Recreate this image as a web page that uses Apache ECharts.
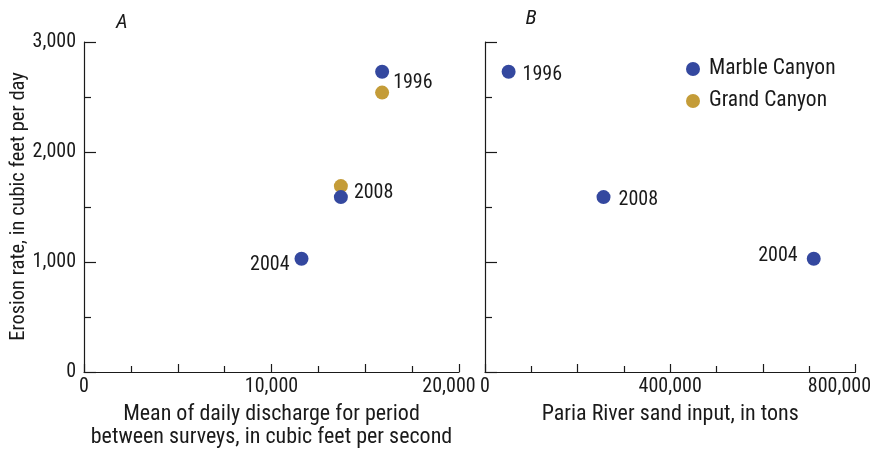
<!DOCTYPE html>
<html>
<head>
<meta charset="utf-8">
<script src="https://cdn.jsdelivr.net/npm/echarts@6/dist/echarts.min.js"></script>
<style>
  html, body { margin: 0; padding: 0; background: #fff; }
  #chart { width: 874px; height: 455px; }
</style>
</head>
<body>
<div id="chart"></div>
<script>
// values
const marbleYears = ['1996', '2004', '2008']
const marbleDischarge = [15900, 11600, 13700]
const marbleErosion = [2730, 1030, 1590]
const pariaSand = [51000, 710000, 256000]

const grandYears = ['1996', '2008']
const grandDischarge = [15900, 13700]
const grandErosion = [2540, 1690]

const erosionTicks = [0, 1000, 2000, 3000]
const dischargeTicks = [0, 10000, 20000]
const sandTicks = [0, 400000, 800000]

const FONT = '"Roboto Condensed", Roboto, sans-serif'
const INK = '#1a1a1a'
const BLUE = '#34489f'
const GOLD = '#c49c38'

// where each year label sits next to its dot
const labelA = {
  '1996': { position: 'right', distance: 4, offset: [0, 11] },
  '2004': { position: 'left', distance: 5, offset: [0, 6] },
  '2008': { position: 'right', distance: 6, offset: [0, -4] },
}
const labelB = {
  '1996': { position: 'right', distance: 7, offset: [0, 3] },
  '2004': { position: 'left', distance: 9, offset: [0, -3] },
  '2008': { position: 'right', distance: 8, offset: [0, 3] },
}

const fmt = v => Number(v).toLocaleString('en-US')

function points(xs, ys, years, labels) {
  return xs.map((x, i) => ({
    value: [x, ys[i]],
    label: labels ? {
      show: true,
      formatter: years[i],
      color: INK,
      fontSize: 20,
      fontFamily: FONT,
      ...labels[years[i]],
    } : { show: false },
  }))
}

const axisLine = { show: true, lineStyle: { color: INK, width: 1.2 } }
const tickLabel = { color: INK, fontSize: 20, fontFamily: FONT }

function xAxis(gridIndex, max, interval, ticks, lastPad, name) {
  return {
    type: 'value', gridIndex, min: 0, max, interval,
    axisLine,
    splitLine: { show: false },
    axisTick: { show: true, inside: true, length: 8, lineStyle: { color: INK, width: 1.2 } },
    minorTick: { show: true, splitNumber: 2, length: 6, lineStyle: { color: INK, width: 1.2 } },
    axisLabel: {
      ...tickLabel,
      margin: 5,
      showMaxLabel: true,
      formatter: v => {
        if (!ticks.includes(v)) return ''
        if (v === max) return '{last|' + fmt(v) + '}'
        return fmt(v)
      },
      rich: { last: { ...tickLabel, padding: [0, lastPad, 0, 0] } },
    },
    name,
    nameLocation: 'middle',
    nameGap: 31,
    nameTextStyle: { color: INK, fontSize: 22, fontFamily: FONT, lineHeight: 23 },
  }
}

function yAxis(gridIndex, showLabels) {
  return {
    type: 'value', gridIndex, min: 0, max: 3000, interval: 1000,
    axisLine,
    splitLine: { show: false },
    axisTick: { show: true, inside: true, length: 12, lineStyle: { color: INK, width: 1.2 } },
    minorTick: { show: true, splitNumber: 2, length: 7, lineStyle: { color: INK, width: 1.2 } },
    axisLabel: {
      ...tickLabel,
      show: showLabels,
      margin: 8,
      formatter: v => erosionTicks.includes(v) ? fmt(v) : '',
    },
  }
}

const chart = echarts.init(document.getElementById('chart'), null, { renderer: 'canvas' })

chart.setOption({
  animation: false,
  backgroundColor: '#fff',
  grid: [
    { left: 84, top: 42, width: 375, height: 330 },
    { left: 485, top: 42, width: 374, height: 330 },
  ],
  xAxis: [
    xAxis(0, 20000, 5000, dischargeTicks, 20,
      'Mean of daily discharge for period\nbetween surveys, in cubic feet per second'),
    xAxis(1, 800000, 200000, sandTicks, 32, 'Paria River sand input, in tons'),
  ],
  yAxis: [yAxis(0, true), yAxis(1, false)],
  legend: {
    orient: 'vertical',
    left: 686,
    top: 58,
    padding: 0,
    itemWidth: 14,
    itemHeight: 14,
    itemGap: 10,
    icon: 'circle',
    data: ['Marble Canyon', 'Grand Canyon'],
    textStyle: { color: INK, fontSize: 21.5, fontFamily: FONT, padding: [0, 0, 0, 4] },
  },
  graphic: [
    {
      type: 'text', x: 18.5, y: 206.5, rotation: Math.PI / 2,
      style: {
        text: 'Erosion rate, in cubic feet per day',
        fill: INK, font: '20.5px ' + FONT, align: 'center', verticalAlign: 'middle',
      },
    },
    {
      type: 'text', x: 122, y: 23,
      style: { text: 'A', fill: INK, font: 'italic 21px ' + FONT, align: 'center', verticalAlign: 'middle' },
    },
    {
      type: 'text', x: 531, y: 19,
      style: { text: 'B', fill: INK, font: 'italic 21px ' + FONT, align: 'center', verticalAlign: 'middle' },
    },
  ],
  series: [
    {
      name: 'Grand Canyon', type: 'scatter', xAxisIndex: 0, yAxisIndex: 0,
      symbolSize: 14, itemStyle: { color: GOLD, opacity: 1 },
      data: points(grandDischarge, grandErosion, grandYears, null),
    },
    {
      name: 'Marble Canyon', type: 'scatter', xAxisIndex: 0, yAxisIndex: 0,
      symbolSize: 14, itemStyle: { color: BLUE, opacity: 1 },
      data: points(marbleDischarge, marbleErosion, marbleYears, labelA),
    },
    {
      name: 'Marble Canyon', type: 'scatter', xAxisIndex: 1, yAxisIndex: 1,
      symbolSize: 14, itemStyle: { color: BLUE, opacity: 1 },
      data: points(pariaSand, marbleErosion, marbleYears, labelB),
    },
  ],
})

window.addEventListener('resize', () => chart.resize())
</script>
</body>
</html>
